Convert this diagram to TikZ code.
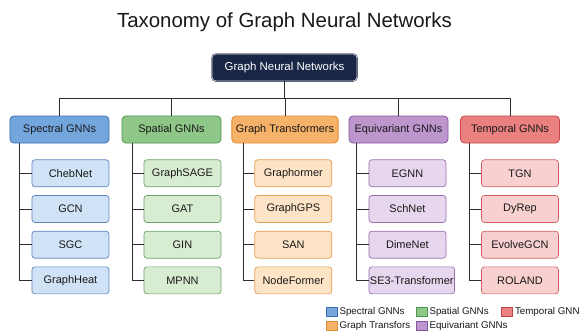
\documentclass[tikz,border=0pt]{standalone}
\usepackage{fontspec}
\setmainfont{Liberation Sans}
\setsansfont{Liberation Sans}
\usetikzlibrary{positioning}
\definecolor{gnnnavy}{RGB}{26,38,70}
\definecolor{gnnline}{RGB}{45,45,45}
\definecolor{specfill}{RGB}{116,166,222}
\definecolor{specdraw}{RGB}{63,112,180}
\definecolor{speclite}{RGB}{207,226,246}
\definecolor{spatfill}{RGB}{142,199,135}
\definecolor{spatdraw}{RGB}{80,150,80}
\definecolor{spatlite}{RGB}{216,236,210}
\definecolor{tranfill}{RGB}{245,178,104}
\definecolor{trandraw}{RGB}{226,140,50}
\definecolor{tranlite}{RGB}{253,228,198}
\definecolor{equifill}{RGB}{190,150,206}
\definecolor{equidraw}{RGB}{135,85,160}
\definecolor{equilite}{RGB}{230,215,238}
\definecolor{tempfill}{RGB}{234,128,128}
\definecolor{tempdraw}{RGB}{200,70,70}
\definecolor{templite}{RGB}{248,208,208}

\begin{document}
\begin{tikzpicture}[
  x=1bp, y=-1bp,
  every node/.style={font=\sffamily, text=black!90},
  root/.style={draw=gnnnavy, double=white!85!gnnnavy, double distance=0.7pt,
    fill=gnnnavy, text=white, rounded corners=4pt, font=\sffamily\fontsize{11.5}{13}\selectfont,
    minimum width=145bp, minimum height=27bp},
  family/.style={draw=#1draw, fill=#1fill, line width=0.8pt, rounded corners=4pt,
    minimum width=99bp, minimum height=27bp, inner xsep=4bp,
    font=\sffamily\fontsize{11}{13}\selectfont},
  model/.style={draw=#1draw!85, fill=#1lite, line width=0.7pt, rounded corners=3pt,
    minimum width=77bp, minimum height=27bp, inner xsep=1bp,
    font=\sffamily\fontsize{11}{13}\selectfont},
  link/.style={draw=gnnline, line width=0.8pt},
  key/.style={draw=#1draw, fill=#1fill, line width=0.6pt, minimum width=11bp,
    minimum height=9bp, inner sep=0pt},
  keytext/.style={font=\sffamily\fontsize{9.8}{11}\selectfont, inner xsep=2bp}
]
  \useasboundingbox[fill=white] (0,0) rectangle (580,331);

  \node[font=\sffamily\fontsize{20.5}{24}\selectfont, anchor=base] (title) at (284.5,27) {Taxonomy of Graph Neural Networks};
  \node[root] (gnn) at (284.5,67.5) {Graph Neural Networks};

  % families
  \node[family=spec] (spec) at (59.5,129.5) {Spectral GNNs};
  \node[family=spat] (spat) at (171.5,129.5) {Spatial GNNs};
  \node[family=tran] (tran) at (285,129.5) {Graph Transformers};
  \node[family=equi] (equi) at (398.5,129.5) {Equivariant GNNs};
  \node[family=temp] (temp) at (510,129.5) {Temporal GNNs};

  \foreach \f in {spec,spat,tran,equi,temp}
    \draw[link] (gnn.south) -- ++(0,17) -| (\f.north);

  % spectral models
  \node[model=spec, below=16bp of spec.south west, anchor=north west, xshift=22bp] (cheb) {ChebNet};
  \node[model=spec, below=8bp of cheb.south west, anchor=north west] (gcn) {GCN};
  \node[model=spec, below=8bp of gcn.south west, anchor=north west] (sgc) {SGC};
  \node[model=spec, below=8bp of sgc.south west, anchor=north west] (heat) {GraphHeat};

  % spatial models
  \node[model=spat, below=16bp of spat.south west, anchor=north west, xshift=22bp] (sage) {GraphSAGE};
  \node[model=spat, below=8bp of sage.south west, anchor=north west] (gat) {GAT};
  \node[model=spat, below=8bp of gat.south west, anchor=north west] (gin) {GIN};
  \node[model=spat, below=8bp of gin.south west, anchor=north west] (mpnn) {MPNN};

  % transformer models
  \node[model=tran, below=16bp of tran.south west, anchor=north west, xshift=23bp] (graphormer) {Graphormer};
  \node[model=tran, below=8bp of graphormer.south west, anchor=north west] (gps) {GraphGPS};
  \node[model=tran, below=8bp of gps.south west, anchor=north west] (san) {SAN};
  \node[model=tran, below=8bp of san.south west, anchor=north west] (nodeformer) {NodeFormer};

  % equivariant models
  \node[model=equi, below=16bp of equi.south west, anchor=north west, xshift=20bp] (egnn) {EGNN};
  \node[model=equi, below=8bp of egnn.south west, anchor=north west] (schnet) {SchNet};
  \node[model=equi, below=8bp of schnet.south west, anchor=north west] (dimenet) {DimeNet};
  \node[model=equi, below=8bp of dimenet.south west, anchor=north west] (se3) {SE3-Transformer};

  % temporal models
  \node[model=temp, below=16bp of temp.south west, anchor=north west, xshift=21bp] (tgn) {TGN};
  \node[model=temp, below=8bp of tgn.south west, anchor=north west] (dyrep) {DyRep};
  \node[model=temp, below=8bp of dyrep.south west, anchor=north west] (evolve) {EvolveGCN};
  \node[model=temp, below=8bp of evolve.south west, anchor=north west] (roland) {ROLAND};

  \foreach \m in {cheb,gcn,sgc,heat}
    \draw[link] ([xshift=10bp]spec.south west) |- (\m.west);
  \foreach \m in {sage,gat,gin,mpnn}
    \draw[link] ([xshift=11bp]spat.south west) |- (\m.west);
  \foreach \m in {graphormer,gps,san,nodeformer}
    \draw[link] ([xshift=12bp]tran.south west) |- (\m.west);
  \foreach \m in {egnn,schnet,dimenet,se3}
    \draw[link] ([xshift=8bp]equi.south west) |- (\m.west);
  \foreach \m in {tgn,dyrep,evolve,roland}
    \draw[link] ([xshift=9bp]temp.south west) |- (\m.west);

  % legend
  \node[key=spec] (kspec) at (331.5,311.5) {};
  \node[keytext, right=0bp of kspec] (lspec) {Spectral GNNs};
  \node[key=spat] (kspat) at (421.5,311.5) {};
  \node[keytext, right=0bp of kspat] (lspat) {Spatial GNNs};
  \node[key=temp] (ktemp) at (507,311.5) {};
  \node[keytext, right=0bp of ktemp] (ltemp) {Temporal GNNs};
  \node[key=tran] (ktran) at (331.5,325.5) {};
  \node[keytext, right=0bp of ktran] (ltran) {Graph Transfors};
  \node[key=equi] (kequi) at (421.5,325.5) {};
  \node[keytext, right=0bp of kequi] (lequi) {Equivariant GNNs};
\end{tikzpicture}
\end{document}
